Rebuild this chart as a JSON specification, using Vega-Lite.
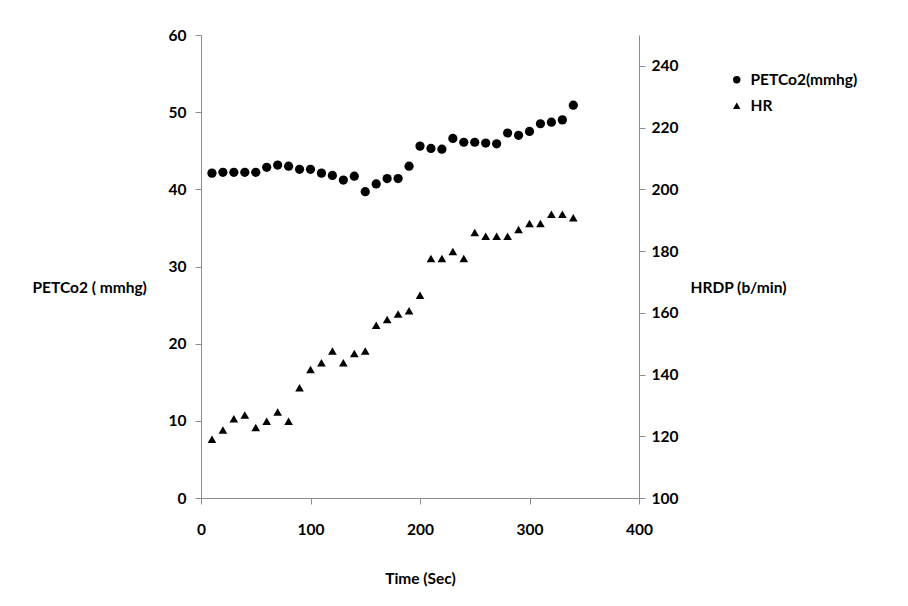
{
  "$schema": "https://vega.github.io/schema/vega-lite/v6.json",
  "width": 438,
  "height": 463,
  "autosize": {"type": "none"},
  "padding": {"left": 201, "top": 35, "right": 269, "bottom": 108},
  "background": "white",
  "config": {
    "view": {"stroke": null},
    "font": "Lato",
    "axis": {
      "grid": false,
      "domainColor": "#8c8c8c",
      "tickColor": "#8c8c8c",
      "tickSize": 6,
      "labelFont": "Lato",
      "labelFontWeight": "bold",
      "labelFontSize": 15.5,
      "labelColor": "#000",
      "titleFont": "Lato",
      "titleFontWeight": "bold",
      "titleFontSize": 15.5,
      "titleColor": "#000"
    }
  },
  "data": {
    "values": [
      {"time": 10, "petco2": 42.1, "hr": 119.0},
      {"time": 20, "petco2": 42.2, "hr": 122.0},
      {"time": 30, "petco2": 42.2, "hr": 125.7},
      {"time": 40, "petco2": 42.2, "hr": 126.9},
      {"time": 50, "petco2": 42.2, "hr": 122.8},
      {"time": 60, "petco2": 42.85, "hr": 124.9},
      {"time": 70, "petco2": 43.15, "hr": 127.9},
      {"time": 80, "petco2": 43.0, "hr": 124.9},
      {"time": 90, "petco2": 42.6, "hr": 135.7},
      {"time": 100, "petco2": 42.6, "hr": 141.6},
      {"time": 110, "petco2": 42.1, "hr": 143.8},
      {"time": 120, "petco2": 41.8, "hr": 147.6},
      {"time": 130, "petco2": 41.2, "hr": 143.8},
      {"time": 140, "petco2": 41.7, "hr": 146.8},
      {"time": 150, "petco2": 39.7, "hr": 147.6},
      {"time": 160, "petco2": 40.7, "hr": 156.0},
      {"time": 170, "petco2": 41.4, "hr": 157.8},
      {"time": 180, "petco2": 41.4, "hr": 159.6},
      {"time": 190, "petco2": 43.0, "hr": 160.7},
      {"time": 200, "petco2": 45.6, "hr": 165.7},
      {"time": 210, "petco2": 45.3, "hr": 177.6},
      {"time": 220, "petco2": 45.2, "hr": 177.6},
      {"time": 230, "petco2": 46.6, "hr": 179.9},
      {"time": 240, "petco2": 46.1, "hr": 177.6},
      {"time": 250, "petco2": 46.1, "hr": 186.0},
      {"time": 260, "petco2": 46.0, "hr": 184.8},
      {"time": 270, "petco2": 45.9, "hr": 184.8},
      {"time": 280, "petco2": 47.3, "hr": 184.8},
      {"time": 290, "petco2": 47.0, "hr": 187.0},
      {"time": 300, "petco2": 47.5, "hr": 188.9},
      {"time": 310, "petco2": 48.5, "hr": 188.9},
      {"time": 320, "petco2": 48.7, "hr": 191.9},
      {"time": 330, "petco2": 49.0, "hr": 191.9},
      {"time": 340, "petco2": 50.9, "hr": 190.8}
    ]
  },
  "encoding": {
    "x": {
      "field": "time",
      "type": "quantitative",
      "scale": {"domain": [0, 400], "nice": false},
      "axis": {
        "title": "Time (Sec)",
        "values": [0, 100, 200, 300, 400],
        "labelFlush": false,
        "labelPadding": 18,
        "titleY": 80,
        "titleBaseline": "middle"
      }
    }
  },
  "layer": [
    {
      "mark": {"type": "point", "filled": true, "color": "black", "opacity": 1, "size": 85},
      "encoding": {
        "y": {
          "field": "petco2",
          "type": "quantitative",
          "scale": {"domain": [0, 60], "nice": false},
          "axis": {
            "title": "PETCo2 ( mmhg)",
            "values": [0, 10, 20, 30, 40, 50, 60],
            "labelPadding": 9,
            "titleAngle": 0,
            "titleAlign": "left",
            "titleBaseline": "middle",
            "titleX": -169,
            "titleY": 252
          }
        },
        "shape": {
          "datum": "PETCo2(mmhg)",
          "type": "nominal",
          "scale": {"domain": ["PETCo2(mmhg)", "HR"], "range": ["circle", "triangle-up"]},
          "legend": {
            "title": null,
            "orient": "none",
            "legendX": 528,
            "legendY": 37,
            "padding": 0,
            "symbolSize": 55,
            "symbolFillColor": "black",
            "symbolStrokeColor": "black",
            "labelFont": "Lato",
            "labelFontWeight": "bold",
            "labelFontSize": 15.5,
            "labelColor": "black",
            "labelOffset": 6,
            "rowPadding": 9
          }
        }
      }
    },
    {
      "mark": {"type": "point", "filled": true, "color": "black", "opacity": 1, "size": 75, "shape": "triangle-up"},
      "encoding": {
        "y": {
          "field": "hr",
          "type": "quantitative",
          "scale": {"domain": [100, 250], "nice": false},
          "axis": {
            "orient": "right",
            "title": "HRDP (b/min)",
            "values": [100, 120, 140, 160, 180, 200, 220, 240],
            "labelPadding": 6,
            "titleAngle": 0,
            "titleAlign": "left",
            "titleBaseline": "middle",
            "titleX": 51,
            "titleY": 252
          }
        },
        "shape": {"datum": "HR", "type": "nominal"}
      }
    }
  ],
  "resolve": {"scale": {"y": "independent"}, "axis": {"y": "independent"}}
}
